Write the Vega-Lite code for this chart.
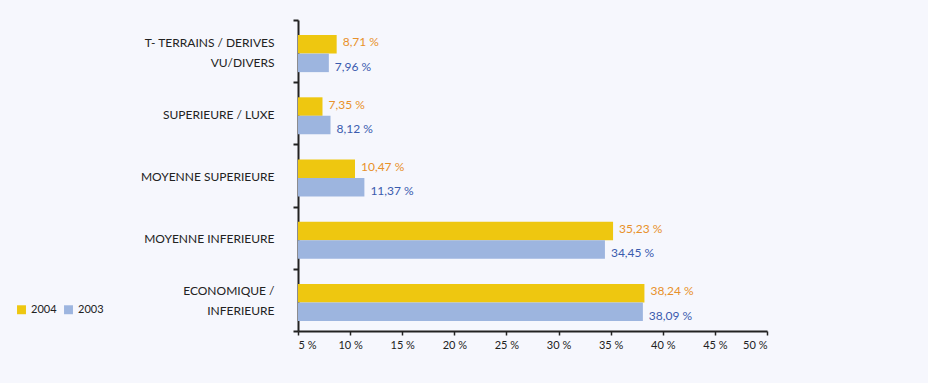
{
  "$schema": "https://vega.github.io/schema/vega-lite/v6.json",
  "autosize": "none",
  "width": 469,
  "height": 311,
  "padding": {"left": 298, "top": 20, "right": 161, "bottom": 52},
  "background": "#F6F7FD",
  "config": {
    "view": {"stroke": null},
    "font": "Lato",
    "axis": {"labelFont": "Lato", "labelColor": "#222222", "domainColor": "#222222", "tickColor": "#222222"}
  },
  "data": {
    "values": [
      {"cat": "T- TERRAINS / DERIVES VU/DIVERS", "year": "2004", "value": 8.71},
      {"cat": "T- TERRAINS / DERIVES VU/DIVERS", "year": "2003", "value": 7.96},
      {"cat": "SUPERIEURE / LUXE", "year": "2004", "value": 7.35},
      {"cat": "SUPERIEURE / LUXE", "year": "2003", "value": 8.12},
      {"cat": "MOYENNE SUPERIEURE", "year": "2004", "value": 10.47},
      {"cat": "MOYENNE SUPERIEURE", "year": "2003", "value": 11.37},
      {"cat": "MOYENNE INFERIEURE", "year": "2004", "value": 35.23},
      {"cat": "MOYENNE INFERIEURE", "year": "2003", "value": 34.45},
      {"cat": "ECONOMIQUE / INFERIEURE", "year": "2004", "value": 38.24},
      {"cat": "ECONOMIQUE / INFERIEURE", "year": "2003", "value": 38.09}
    ]
  },
  "transform": [
    {"calculate": "replace(format(datum.value, '.2f'), '.', ',') + ' %'", "as": "label"}
  ],
  "encoding": {
    "y": {
      "field": "cat",
      "type": "nominal",
      "sort": ["T- TERRAINS / DERIVES VU/DIVERS", "SUPERIEURE / LUXE", "MOYENNE SUPERIEURE", "MOYENNE INFERIEURE", "ECONOMIQUE / INFERIEURE"],
      "scale": {"paddingInner": 0, "paddingOuter": 0},
      "axis": {
        "title": null,
        "domainWidth": 2,
        "tickBand": "extent",
        "tickSize": 5,
        "tickWidth": 2,
        "labelPadding": 19,
        "labelFontSize": 12,
        "labelLineHeight": 20,
        "labelLimit": 300,
        "labelOffset": {"condition": {"test": "datum.value == 'T- TERRAINS / DERIVES VU/DIVERS' || datum.value == 'ECONOMIQUE / INFERIEURE'", "value": -9}, "value": 1},
        "labelExpr": "datum.value == 'T- TERRAINS / DERIVES VU/DIVERS' ? ['T- TERRAINS / DERIVES', 'VU/DIVERS'] : datum.value == 'ECONOMIQUE / INFERIEURE' ? ['ECONOMIQUE /', 'INFERIEURE'] : datum.value"
      }
    },
    "yOffset": {
      "field": "year",
      "type": "nominal",
      "sort": ["2004", "2003"],
      "scale": {"paddingInner": 0, "paddingOuter": 0.68, "align": 0.6}
    }
  },
  "layer": [
    {
      "mark": {"type": "bar"},
      "encoding": {
        "x": {
          "field": "value",
          "type": "quantitative",
          "scale": {"domain": [5, 50], "zero": false, "nice": false},
          "axis": {
            "title": null,
            "values": [5, 10, 15, 20, 25, 30, 35, 40, 45, 50],
            "labelExpr": "datum.value + ' %'",
            "grid": false,
            "domainWidth": 2,
            "tickSize": 4,
            "tickWidth": 1.5,
            "labelFontSize": 11,
            "labelPadding": 4
          }
        },
        "x2": {"datum": 5},
        "color": {
          "field": "year",
          "type": "nominal",
          "scale": {"domain": ["2004", "2003"], "range": ["#EEC710", "#9DB5DF"]},
          "legend": {
            "title": null,
            "orient": "none",
            "direction": "horizontal",
            "legendX": -282,
            "legendY": 284,
            "symbolType": "square",
            "symbolSize": 80,
            "symbolStrokeWidth": 0,
            "labelFontSize": 11,
            "labelColor": "#222222",
            "labelFont": "Lato",
            "columnPadding": 6,
            "labelOffset": 4
          }
        }
      }
    },
    {
      "transform": [{"filter": "datum.year == '2004'"}],
      "mark": {"type": "text", "align": "left", "dx": 6, "dy": -2, "fontSize": 12, "color": "#E8912A", "font": "Lato"},
      "encoding": {
        "x": {"field": "value", "type": "quantitative"},
        "text": {"field": "label"}
      }
    },
    {
      "transform": [{"filter": "datum.year == '2003'"}],
      "mark": {"type": "text", "align": "left", "dx": 6, "dy": 4, "fontSize": 12, "color": "#3A5BAE", "font": "Lato"},
      "encoding": {
        "x": {"field": "value", "type": "quantitative"},
        "text": {"field": "label"}
      }
    }
  ]
}
